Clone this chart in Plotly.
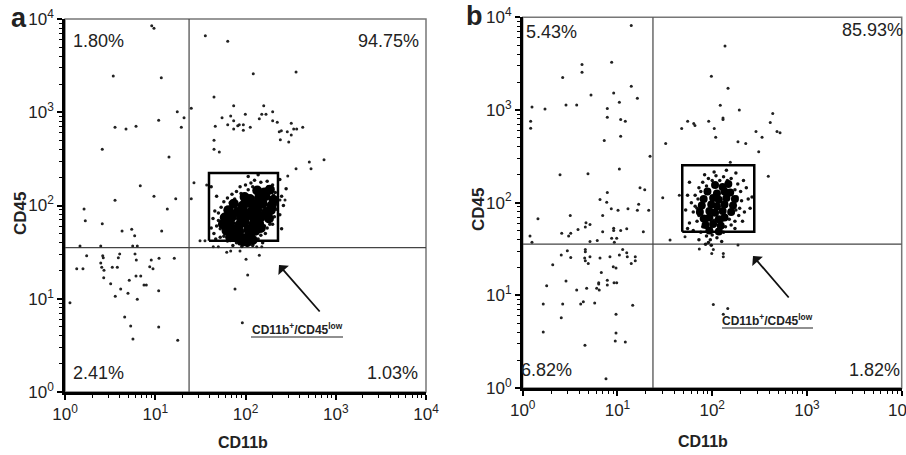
import numpy as np
import plotly.graph_objects as go

# ---------------- data (log10 fluorescence positions) ----------------
# Panel a : scattered events
a_sc_x_log = [0.961, 0.986, 0.535, 1.067, 1.399, 1.244, 1.319, 1.038, 0.676, 0.554, 0.787, 1.289, 0.413, 1.152,
              0.834, 0.986, 1.227, 1.399, 0.554, 0.211, 1.134, 0.225, 0.413, 0.632, 0.739, 0.772, 1.071, 0.166,
              0.396, 0.750, 0.801,
              1.555, 1.803, 2.086, 2.560, 1.651, 1.869, 2.202, 2.301, 1.740, 1.836, 1.998, 2.180, 2.227, 1.803,
              1.869, 1.914, 1.931, 1.976, 1.869, 1.665, 2.053, 2.153, 2.301, 2.352, 2.374, 2.397, 2.463, 2.507,
              2.534, 2.567, 2.634, 2.507, 2.386, 2.479, 1.651, 1.651, 1.710, 2.707, 2.870, 2.560, 2.726, 1.976,
              2.468, 2.382, 2.438, 1.429, 1.570,
              0.240, 0.130, 0.199, 0.396, 0.424, 0.418, 0.432, 0.407, 0.524, 0.580, 0.591, 0.606, 0.776, 0.790,
              0.429, 0.506, 0.617, 0.712, 0.787, 0.839, 0.875, 0.901, 0.956, 0.939, 0.975, 1.042, 1.211, 0.557,
              0.698, 0.801, 1.038, 0.055, 0.661, 0.728, 1.038, 0.753, 1.249,
              1.792, 1.836, 1.939, 2.006, 2.153, 2.024, 1.884, 1.965, 1.643, 1.699, 2.124, 2.180, 1.496, 1.551]
a_sc_y_log = [3.928, 3.900, 3.389, 3.371, 3.042, 3.006, 2.942, 2.914, 2.820, 2.839, 2.849, 2.839, 2.603, 2.520,
              2.212, 2.099, 2.073, 2.073, 2.056, 1.963, 1.963, 1.837, 1.805, 1.727, 1.745, 1.676, 1.727, 1.566,
              1.566, 1.566, 1.566,
              3.821, 3.761, 3.413, 3.432, 3.164, 3.070, 3.070, 3.006, 2.942, 2.960, 2.978, 2.978, 2.978, 2.866,
              2.909, 2.856, 2.866, 2.866, 2.820, 2.849, 2.839, 2.931, 2.909, 2.892, 2.791, 2.802, 2.791, 2.881,
              2.820, 2.820, 2.839, 2.756, 2.706, 2.681, 2.699, 2.603, 2.574, 2.466, 2.491, 2.395, 2.395, 2.806,
              2.316, 2.059, 2.059, 2.245, 2.220,
              1.462, 1.322, 1.322, 1.383, 1.440, 1.462, 1.305, 1.337, 1.337, 1.337, 1.440, 1.480, 1.480, 1.416,
              1.226, 1.161, 1.104, 1.198, 1.244, 1.244, 1.147, 1.147, 1.416, 1.344, 1.322, 1.434, 1.434, 1.026,
              1.058, 0.994, 1.086, 0.958, 0.804, 0.708, 0.697, 0.568, 0.554,
              1.498, 1.512, 1.512, 1.423, 1.466, 1.255, 1.105, 0.743, 1.558, 1.558, 1.558, 1.558, 1.623, 1.623]
# Panel a : dense microglia cluster (core and fringe)
a_core_x_log = [2.13, 2.21, 2.27, 1.99, 2.05, 2.15, 2.22, 2.31, 1.87, 1.97, 2.03, 2.11, 2.19, 2.29, 1.81, 1.91,
                1.97, 2.07, 2.13, 2.23, 2.28, 1.77, 1.85, 1.95, 2.01, 2.09, 2.17, 2.26, 1.75, 1.83, 1.93, 1.99,
                2.09, 2.15, 1.79, 1.87, 1.93, 2.03, 2.11, 1.83, 1.91, 1.99, 2.05, 2.02, 1.96, 2.08, 1.89, 2.17]
a_core_y_log = [2.16, 2.14, 2.17, 2.09, 2.07, 2.08, 2.10, 2.06, 2.02, 2.00, 2.03, 2.01, 2.02, 2.00, 1.95, 1.93,
                1.96, 1.94, 1.95, 1.93, 1.95, 1.87, 1.88, 1.86, 1.89, 1.87, 1.88, 1.86, 1.80, 1.81, 1.79, 1.82,
                1.80, 1.81, 1.73, 1.74, 1.72, 1.74, 1.73, 1.66, 1.67, 1.65, 1.68, 1.61, 1.62, 1.63, 1.70, 1.76]
a_fr_x_log = [1.65, 1.68, 1.64, 1.70, 1.67, 1.72, 1.70, 1.73, 1.76, 1.80, 1.85, 1.90, 1.94, 2.00, 2.06, 2.10,
              2.17, 2.24, 2.30, 2.33, 2.35, 2.34, 2.32, 2.30, 2.24, 2.22, 2.17, 2.14, 2.10, 2.06, 1.98, 1.93,
              1.88, 1.80, 1.76, 1.72, 1.66, 1.62, 1.78, 1.83, 1.88, 1.95, 2.03, 2.08, 2.25, 2.31, 2.33, 2.27,
              2.21, 2.12, 2.04, 1.90, 1.85, 1.79, 2.40, 2.42, 2.38, 2.45, 2.38, 2.03, 2.14, 1.62, 1.68, 2.02,
              1.96, 2.08, 1.86, 2.19, 2.40]
a_fr_y_log = [1.70, 1.78, 1.86, 1.92, 1.64, 1.66, 1.84, 1.98, 2.04, 2.08, 2.12, 2.15, 2.20, 2.22, 2.24, 2.27,
              2.25, 2.26, 2.22, 2.14, 2.05, 1.96, 1.88, 1.80, 1.76, 1.70, 1.68, 1.64, 1.62, 1.60, 1.58, 1.59,
              1.63, 1.62, 1.67, 1.75, 1.94, 1.76, 1.96, 2.03, 2.07, 2.13, 2.17, 2.20, 2.20, 2.11, 2.01, 1.80,
              1.78, 1.70, 1.66, 1.60, 1.69, 1.89, 2.10, 2.00, 1.90, 2.18, 2.28, 2.31, 2.33, 2.20, 2.10, 1.57,
              1.56, 1.57, 1.57, 1.60, 1.75]

# Panel b : scattered events
b_sc_x_log = [1.146, 0.939, 0.626, 0.626, 0.422, 1.146, 0.960, 0.721, 1.210, 1.020, 0.098, 0.235, 0.457, 0.570,
              0.893, 0.893, 1.034, 1.083, 0.084, 0.084, 1.034, 0.861, 1.344, 1.020, 0.394, 0.689, 1.238, 1.288,
              0.893, 0.816, 0.887, 0.935, 1.006, 1.111, 1.210, 1.224, 1.330, 0.502, 0.844, 0.161, 0.668, 0.710,
              0.584, 0.661, 0.960, 0.960, 1.034, 1.098, 1.273, 0.412, 0.507, 0.485, 0.844, 0.077, 0.098, 0.710,
              0.787, 0.939, 0.992, 0.967,
              2.135, 1.991, 2.167, 2.085, 2.286, 2.639, 2.613, 1.741, 1.805, 1.818, 1.963, 2.114, 2.114, 1.678,
              2.022, 2.462, 2.526, 2.684, 2.716, 2.037, 2.272, 2.354, 1.509, 2.491, 2.191, 2.592, 1.478, 1.653,
              0.407, 0.507, 0.471, 0.661, 0.661, 0.654, 0.661, 0.692, 0.710, 0.816, 0.921, 1.020, 1.055, 1.098,
              1.104, 1.188, 1.188, 1.146, 0.956, 0.985, 0.317, 0.830, 0.457, 0.802, 0.802, 0.893, 0.964, 0.992,
              0.253, 0.675, 0.781, 0.808, 0.570, 0.893, 0.640, 0.612, 0.760, 0.422, 0.217, 1.161, 0.985, 0.407,
              0.217, 0.985, 0.977, 1.083, 0.657, 0.879,
              1.864, 2.012, 2.117, 2.117, 2.012, 2.117, 2.164, 1.995, 1.555, 1.713, 2.272]
b_sc_y_log = [3.911, 3.515, 3.490, 3.407, 3.350, 3.256, 3.184, 3.162, 3.127, 3.084, 3.033, 3.011, 3.054, 3.054,
              3.016, 2.922, 2.897, 2.879, 2.879, 2.803, 2.717, 2.671, 2.501, 2.364, 2.300, 2.311, 2.160, 2.138,
              2.110, 2.034, 2.005, 1.933, 1.919, 1.933, 1.919, 1.984, 1.919, 1.862, 1.862, 1.825, 1.782, 1.765,
              1.711, 1.736, 1.725, 1.700, 1.700, 1.718, 1.685, 1.671, 1.671, 1.639, 1.685, 1.639, 1.574, 1.582,
              1.592, 1.617, 1.617, 1.574,
              3.691, 3.364, 3.235, 3.051, 3.001, 2.962, 2.865, 2.879, 2.854, 2.832, 2.879, 2.914, 2.897, 2.800,
              2.800, 2.768, 2.706, 2.768, 2.753, 2.706, 2.656, 2.638, 2.638, 2.548, 2.437, 2.286, 2.052, 2.081,
              1.434, 1.409, 1.480, 1.495, 1.470, 1.402, 1.373, 1.344, 1.416, 1.402, 1.416, 1.434, 1.495, 1.459,
              1.416, 1.416, 1.373, 1.344, 1.308, 1.294, 1.329, 1.247, 1.154, 1.135, 1.121, 1.164, 1.135, 1.135,
              1.103, 1.075, 1.075, 1.057, 1.057, 1.111, 0.930, 0.906, 0.916, 0.906, 0.906, 0.892, 0.795, 0.758,
              0.604, 0.593, 0.507, 0.496, 0.460, 0.100,
              1.499, 1.495, 1.452, 1.416, 0.902, 0.795, 0.859, 1.452, 1.596, 1.631, 1.542]
# Panel b : dense microglia cluster (core and fringe)
b_core_x_log = [2.03, 2.11, 2.17, 1.95, 2.05, 2.13, 2.19, 1.91, 2.01, 2.07, 2.15, 2.24, 1.89, 1.99, 2.05, 2.13,
                2.22, 1.87, 1.97, 2.03, 2.11, 2.20, 1.91, 1.97, 2.07, 2.13, 1.93, 2.01, 2.09, 1.97, 2.07]
b_core_y_log = [2.19, 2.17, 2.20, 2.12, 2.10, 2.12, 2.11, 2.04, 2.05, 2.03, 2.05, 2.04, 1.97, 1.98, 1.96, 1.98,
                1.97, 1.90, 1.91, 1.89, 1.91, 1.90, 1.83, 1.84, 1.82, 1.84, 1.76, 1.77, 1.75, 1.70, 1.69]
b_fr_x_log = [1.76, 1.80, 1.78, 1.82, 1.86, 1.90, 1.96, 2.04, 2.12, 2.20, 2.27, 2.30, 2.31, 2.29, 2.28, 2.24,
              2.20, 2.14, 2.06, 1.98, 1.90, 1.84, 1.82, 1.85, 1.88, 1.94, 2.00, 2.08, 2.16, 2.24, 2.26, 2.25,
              2.18, 2.10, 2.02, 1.94, 1.86, 1.84, 2.36, 2.38, 2.34, 2.40, 2.33, 2.25, 2.15, 2.02, 1.92, 1.76,
              1.74, 1.72, 1.74, 1.80, 1.88, 2.00, 1.94, 1.98, 1.96, 2.05, 2.12, 2.24, 2.32, 1.93, 1.99, 2.10,
              1.86, 2.42]
b_fr_y_log = [1.78, 1.90, 2.00, 2.08, 2.16, 2.22, 2.26, 2.29, 2.28, 2.26, 2.20, 2.12, 2.02, 1.94, 1.86, 1.80,
              1.76, 1.74, 1.71, 1.72, 1.74, 1.80, 1.96, 2.04, 2.12, 2.18, 2.24, 2.24, 2.24, 2.14, 2.06, 1.92,
              1.82, 1.80, 1.81, 1.80, 1.86, 1.94, 2.16, 2.04, 1.90, 1.94, 2.24, 2.32, 2.35, 2.33, 2.30, 2.22,
              2.08, 1.92, 1.72, 1.70, 1.68, 1.65, 1.64, 1.60, 1.57, 1.62, 1.68, 1.72, 1.80, 1.55, 1.54, 1.58,
              1.60, 2.06]

# quadrant thresholds and gates
a_quad_x, a_quad_y = 23.7, 35.3
b_quad_x, b_quad_y = 23.7, 35.7
a_gate = dict(x0=39.4, x1=229, y0=42, y1=223)
b_gate = dict(x0=48.3, x1=278, y0=48.4, y1=254)

a_pct = ["1.80%", "94.75%", "2.41%", "1.03%"]
b_pct = ["5.43%", "85.93%", "6.82%", "1.82%"]

tick_vals = [1, 10, 100, 1000, 10000]
tick_text = ["10<sup>0</sup>", "10<sup>1</sup>", "10<sup>2</sup>", "10<sup>3</sup>", "10<sup>4</sup>"]
minor_vals = [k * 10 ** d for d in range(4) for k in range(2, 10)]

W, H = 906, 455
NARROW = "Liberation Sans Narrow, Arial Narrow, Liberation Sans, Arial, sans-serif"
SANS = "Liberation Sans, Arial, sans-serif"
TICK_SIZE = 17


def P(x, y):
    return x / W, 1 - y / H


def lin(v):
    return 10 ** np.asarray(v, dtype=float)


fig = go.Figure()

panels = [
    ("x", "y", a_sc_x_log, a_sc_y_log, a_core_x_log, a_core_y_log, a_fr_x_log, a_fr_y_log, a_quad_x, a_quad_y, a_gate, 10),
    ("x2", "y2", b_sc_x_log, b_sc_y_log, b_core_x_log, b_core_y_log, b_fr_x_log, b_fr_y_log, b_quad_x, b_quad_y, b_gate, 8),
]

for xa, ya, sx, sy, cx, cy, fx, fy, qx, qy, gate, csize in panels:
    # quadrant lines
    fig.add_trace(go.Scatter(x=[qx, qx], y=[1, 10000], mode="lines", xaxis=xa, yaxis=ya,
                             line=dict(color="#444", width=1.2), hoverinfo="skip", showlegend=False))
    fig.add_trace(go.Scatter(x=[1, 10000], y=[qy, qy], mode="lines", xaxis=xa, yaxis=ya,
                             line=dict(color="#444", width=1.2), hoverinfo="skip", showlegend=False))
    # events
    fig.add_trace(go.Scatter(x=lin(sx), y=lin(sy), mode="markers", xaxis=xa, yaxis=ya,
                             marker=dict(color="#222", size=3, line=dict(width=0)), showlegend=False))
    fig.add_trace(go.Scatter(x=lin(fx), y=lin(fy), mode="markers", xaxis=xa, yaxis=ya,
                             marker=dict(color="#111", size=3.5, line=dict(width=0)), showlegend=False))
    fig.add_trace(go.Scatter(x=lin(cx), y=lin(cy), mode="markers", xaxis=xa, yaxis=ya,
                             marker=dict(color="black", size=csize, line=dict(width=0)), showlegend=False))
    # gate box
    fig.add_trace(go.Scatter(x=[gate["x0"], gate["x1"], gate["x1"], gate["x0"], gate["x0"]],
                             y=[gate["y0"], gate["y0"], gate["y1"], gate["y1"], gate["y0"]],
                             mode="lines", xaxis=xa, yaxis=ya,
                             line=dict(color="black", width=2.5), hoverinfo="skip", showlegend=False))


def axis(domain, anchor):
    return dict(domain=domain, anchor=anchor, type="log", range=[0, 4], tickmode="array",
                tickvals=tick_vals, ticktext=tick_text, ticks="outside", ticklen=5, tickwidth=1.5,
                tickcolor="black", showline=True, linecolor="black", linewidth=2.5, showgrid=False,
                zeroline=False, automargin=False,
                tickfont=dict(family=NARROW, size=TICK_SIZE, color="#222"),
                minor=dict(tickvals=minor_vals, ticks="outside", ticklen=3, tickcolor="black", tickwidth=1))


ax_x = axis([65 / W, 426 / W], "y")
ax_y = axis([1 - 392 / H, 1 - 19 / H], "x")
bx_x = axis([522.7 / W, 901.7 / W], "y2")
bx_y = axis([1 - 388 / H, 1 - 17.3 / H], "x2")

shapes = []
# thin grey top / right frame
for xr, yr in (("x", "y"), ("x2", "y2")):
    shapes.append(dict(type="rect", xref=xr + " domain", yref=yr + " domain", x0=0, x1=1, y0=0, y1=1,
                       line=dict(color="#777", width=1.5), layer="below"))

annotations = []


def txt(x, y, t, size=18, fam=NARROW, bold=False, angle=0, xanchor="center"):
    px, py = P(x, y)
    annotations.append(dict(x=px, y=py, xref="paper", yref="paper", text=("<b>%s</b>" % t) if bold else t,
                            showarrow=False, xanchor=xanchor, yanchor="middle", textangle=angle,
                            font=dict(family=fam, size=size, color="#222")))


# percentages
for (x, y), t in zip([(98, 41), (388, 41), (98, 373), (392, 373)], a_pct):
    txt(x, y, t)
for (x, y), t in zip([(551, 32), (872, 30), (546, 370), (874, 370)], b_pct):
    txt(x, y, t)

# last x tick label of panel b runs into the page edge (as in the reference)
txt(886, 409, tick_text[-1], size=TICK_SIZE, fam=NARROW, xanchor="left")

# panel letters
txt(19, 18, "a", size=27, fam=SANS, bold=True)
txt(474, 16, "b", size=27, fam=SANS, bold=True)

# axis titles
txt(243, 442, "CD11b", size=16, fam=SANS, bold=True)
txt(703, 441, "CD11b", size=16, fam=SANS, bold=True)
txt(20, 214, "CD45", size=17, fam=SANS, bold=True, angle=-90)
txt(478, 210, "CD45", size=17, fam=SANS, bold=True, angle=-90)

# gate labels + underline
lab = "CD11b<sup>+</sup>/CD45<sup>low</sup>"
txt(297, 329, lab, size=12, fam=SANS, bold=True)
txt(767, 320, lab, size=12, fam=SANS, bold=True)
for x0, x1, y in ((251, 343, 337), (722, 813, 328)):
    a0, b0 = P(x0, y)
    a1, b1 = P(x1, y)
    shapes.append(dict(type="line", xref="paper", yref="paper", x0=a0, x1=a1, y0=b0, y1=b1,
                       line=dict(color="#222", width=1.2)))

# arrows
for (hx, hy), (tx, ty) in (((279, 265), (321, 313)), ((753, 256), (790, 299))):
    px, py = P(hx, hy)
    annotations.append(dict(x=px, y=py, xref="paper", yref="paper", text="", showarrow=True,
                            ax=tx - hx, ay=ty - hy, arrowhead=1, arrowsize=1.3, arrowwidth=1.8,
                            arrowcolor="#111"))

fig.update_layout(width=W, height=H, margin=dict(l=0, r=0, t=0, b=0, autoexpand=False),
                  paper_bgcolor="white", plot_bgcolor="white",
                  xaxis=ax_x, yaxis=ax_y, xaxis2=bx_x, yaxis2=bx_y,
                  shapes=shapes, annotations=annotations, showlegend=False)

fig.write_html("out.html", config={"displayModeBar": False})

# remove the browser's default page margin so the figure sits at the window origin
with open("out.html", "r", encoding="utf-8") as f:
    html = f.read()
html = html.replace("<head>", "<head><style>html,body{margin:0;padding:0;overflow:hidden;}</style>", 1)
with open("out.html", "w", encoding="utf-8") as f:
    f.write(html)
